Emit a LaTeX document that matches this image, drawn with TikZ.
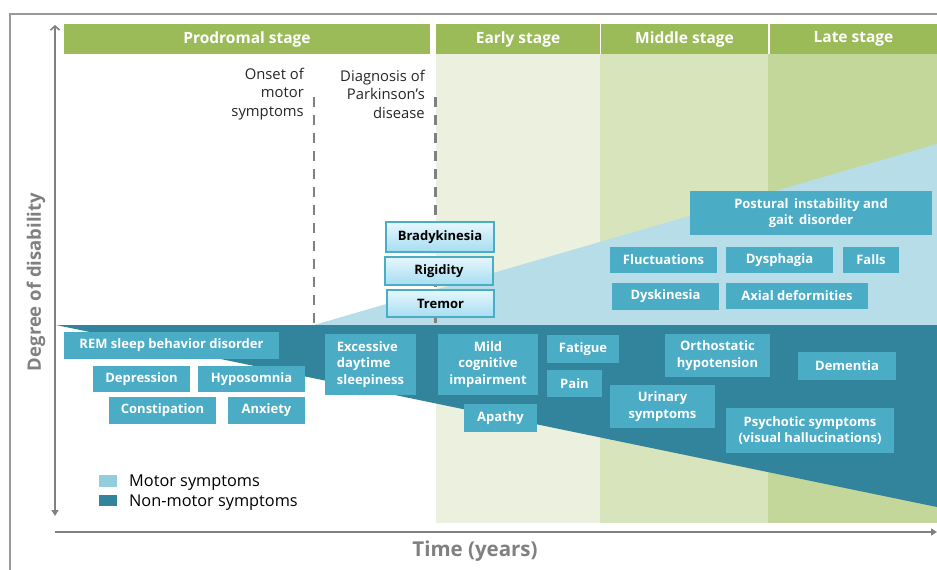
\documentclass[tikz,border=0pt]{standalone}
\usepackage{fontspec}
\setmainfont{Open Sans}
\usetikzlibrary{arrows.meta}
\definecolor{hdr}{HTML}{9BBB59}
\definecolor{earlybg}{HTML}{EBF1DE}
\definecolor{midbg}{HTML}{D8E4BC}
\definecolor{latebg}{HTML}{C4D79B}
\definecolor{motorc}{HTML}{B7DDE8}
\definecolor{nonmotorc}{HTML}{31849B}
\definecolor{boxc}{HTML}{4BACC6}
\definecolor{axisc}{HTML}{808080}
\definecolor{legmotor}{HTML}{92CDDC}
\definecolor{mtop}{HTML}{E6F7FD}
\definecolor{mbot}{HTML}{A6DDF1}
\definecolor{txtc}{HTML}{262626}
\newcommand{\symbx}[7]{\node[#2, minimum width={#5-#3}, minimum height={#6-#4}] (#1) at ({(#3+#5)/2},{(#4+#6)/2}) {#7};}
\tikzset{
  hdrbox/.style={fill=hdr, text=white, font=\bfseries\fontsize{15.5}{18}\selectfont, inner sep=0},
  sbox/.style={fill=boxc, text=white, font=\bfseries\fontsize{13}{16.5}\selectfont, align=center, inner sep=0},
  mbox/.style={draw=boxc, line width=1.2pt, top color=mtop, bottom color=mbot, text=black, font=\bfseries\fontsize{13}{16}\selectfont, inner sep=0},
  note/.style={font=\fontsize{14.8}{18.5}\selectfont, align=right, text=txtc, inner sep=0},
  axisline/.style={draw=axisc, line width=1.6pt},
  stagedash/.style={draw=axisc, line width=2.5pt, dash pattern=on 10pt off 8pt},
  legtext/.style={font=\fontsize{16.3}{18}\selectfont, text=black, anchor=base west, inner sep=0},
  axlabel/.style={font=\bfseries\fontsize{20.5}{22}\selectfont, text=axisc}
}
\begin{document}
\begin{tikzpicture}[x=1pt,y=-1pt]
\useasboundingbox (0,0) rectangle (937,570);
% frame
\coordinate (f0) at (10,570); \coordinate (f1) at (10,14); \coordinate (f2) at (937,14);
\draw[draw=axisc!80, line width=1.5pt] (f0) -- (f1) -- (f2);
% stage backgrounds
\fill[earlybg] (436,54) rectangle (600,523);
\fill[midbg] (600,54) rectangle (768,523);
\fill[latebg] (768,54) rectangle (937,523);
% headers
\symbx{hprod}{hdrbox}{64}{24}{430}{54}{Prodromal stage}
\symbx{hearly}{hdrbox}{436}{24}{600}{54}{Early stage}
\symbx{hmid}{hdrbox}{601}{24}{768}{54}{Middle stage}
\symbx{hlate}{hdrbox}{770}{24}{937}{54}{Late stage}
% motor symptoms wedge
\fill[motorc] (314,325) -- (937,144) -- (937,326) -- cycle;
% dashed lines
\coordinate (d1a) at (314,97); \coordinate (d1b) at (314,326);
\coordinate (d2a) at (435.5,97); \coordinate (d2b) at (435.5,326);
\draw[stagedash] (d1a) -- (d1b);
\draw[stagedash] (d2a) -- (d2b);
% non-motor wedge
\fill[nonmotorc] (56,325) -- (937,325) -- (937,507) -- cycle;
% notes
\node[note, anchor=east] (onset) at (304,94) {Onset of\\motor\\symptoms};
\node[note, anchor=east] (diag) at (425,94) {Diagnosis of\\Parkinson’s\\disease};
% axes
\coordinate (ya) at (55,25); \coordinate (yb) at (55,516);
\draw[axisline, {Straight Barb[length=4pt,width=9pt]}-{Triangle[length=6pt,width=7pt]}] (ya) -- (yb);
\coordinate (xa) at (55,532); \coordinate (xb) at (937,532);
\draw[axisline, -{Triangle[length=6pt,width=7pt]}] (xa) -- (xb);
\node[axlabel] (tlabel) at (475,551) {Time (years)};
\node[axlabel, font=\bfseries\fontsize{18.5}{22}\selectfont, rotate=90] (dlabel) at (36,282) {Degree of disability};
% motor boxes
\symbx{brady}{mbox}{386}{222}{494}{252}{Bradykinesia}
\symbx{rigid}{mbox}{385}{257}{493}{285}{Rigidity}
\symbx{tremor}{mbox}{387}{290}{494}{317}{Tremor}
\symbx{postural}{sbox}{690}{191}{932}{235}{Postural \,instability and\\gait \,disorder}
\symbx{fluct}{sbox}{610}{247}{717}{273}{Fluctuations}
\symbx{dysph}{sbox}{726}{247}{833}{273}{Dysphagia}
\symbx{falls}{sbox}{843}{247}{899}{273}{Falls}
\symbx{dyskin}{sbox}{612}{283}{719}{310}{Dyskinesia}
\symbx{axial}{sbox}{726}{283}{868}{309}{Axial deformities}
% non-motor boxes
\symbx{rem}{sbox}{64}{332}{279}{359}{REM sleep behavior disorder}
\symbx{depr}{sbox}{93}{366}{190}{392}{Depression}
\symbx{hypos}{sbox}{198}{366}{305}{392}{Hyposomnia}
\symbx{const}{sbox}{109}{397}{216}{424}{Constipation}
\symbx{anx}{sbox}{228}{397}{305}{424}{Anxiety}
\symbx{eds}{sbox, align=left}{325}{334}{416}{395}{Excessive\\daytime\\sleepiness}
\symbx{mci}{sbox}{438}{334}{538}{395}{Mild\\cognitive\\impairment}
\symbx{apathy}{sbox}{464}{404}{537}{432}{Apathy}
\symbx{fatigue}{sbox}{547}{335}{619}{363}{Fatigue}
\symbx{pain}{sbox}{547}{370}{602}{397}{Pain}
\symbx{ortho}{sbox}{665}{334}{770}{377}{Orthostatic\\hypotension}
\symbx{urin}{sbox}{610}{385}{715}{428}{Urinary\\symptoms}
\symbx{dementia}{sbox}{798}{352}{896}{380}{Dementia}
\symbx{psych}{sbox}{726}{408}{894}{453}{Psychotic symptoms\\(visual hallucinations)}
% legend
\fill[legmotor] (99,475) rectangle (117,487);
\fill[nonmotorc] (99,495) rectangle (117,506);
\node[legtext] (lmotor) at (129,486) {Motor symptoms};
\node[legtext] (lnon) at (129,506) {Non-motor symptoms};
\end{tikzpicture}
\end{document}
